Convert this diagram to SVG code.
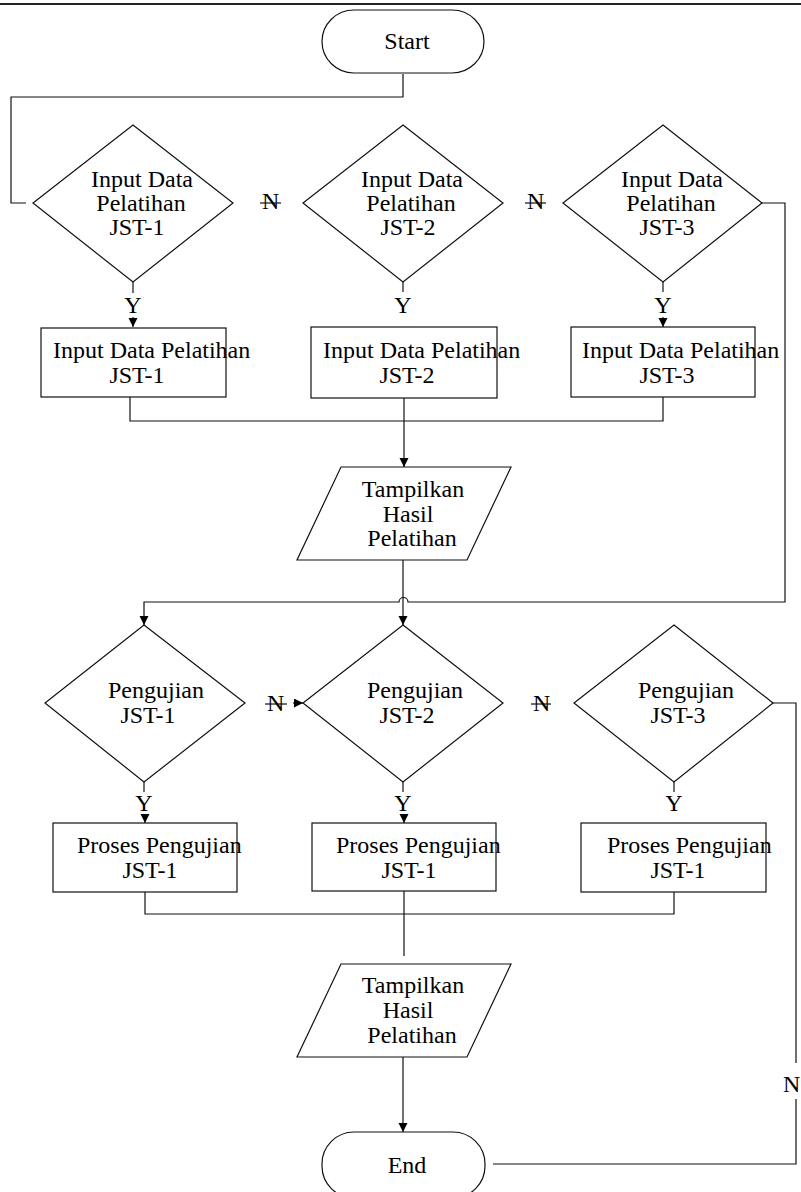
<svg xmlns="http://www.w3.org/2000/svg" width="801" height="1192" viewBox="0 0 801 1192">
<style>
.s{fill:#fff;stroke:#111;stroke-width:1.2}
.c{fill:none;stroke:#111;stroke-width:1.2}
.t{font-family:"Liberation Serif","Times New Roman",serif;font-size:24px;fill:#000}
.m{text-anchor:middle}
</style>
<defs>
<marker id="ah" markerUnits="userSpaceOnUse" markerWidth="10" markerHeight="10" refX="9" refY="4.5" orient="auto">
<path d="M0,0 L9,4.5 L0,9 Z" fill="#000"/>
</marker>
</defs>
<rect width="801" height="1192" fill="#fff"/>
<line x1="0" y1="4" x2="801" y2="4" stroke="#222" stroke-width="2"/>

<g id="connectors">
<path class="c" d="M403,74 V97 H11 V203 H26"/>
<line class="c" x1="260" y1="203" x2="281" y2="203"/>
<line class="c" x1="525" y1="203" x2="546" y2="203"/>
<path class="c" d="M133,282 V293"/>
<path class="c" d="M133,317 V327" marker-end="url(#ah)"/>
<path class="c" d="M403,282 V292"/>
<path class="c" d="M663,282 V292"/>
<path class="c" d="M663,317 V327" marker-end="url(#ah)"/>
<path class="c" d="M130,397 V421 H663 V397"/>
<path class="c" d="M404,398 V467" stroke-width="2" marker-end="url(#ah)"/>
<path class="c" d="M403,560 V625" marker-end="url(#ah)"/>
<path class="c" d="M762,203 H785 V602 H408 A4.5,4.5 0 0 0 399,602 H144 V625" marker-end="url(#ah)"/>
<line class="c" x1="265" y1="704" x2="287" y2="704"/>
<path class="c" d="M293,703 H303" marker-end="url(#ah)"/>
<line class="c" x1="531" y1="704" x2="551" y2="704"/>
<path class="c" d="M144,782 V792"/>
<path class="c" d="M145,814 V823" marker-end="url(#ah)"/>
<path class="c" d="M403,782 V792"/>
<path class="c" d="M404,814 V823" marker-end="url(#ah)"/>
<path class="c" d="M674,782 V792"/>
<path class="c" d="M145,892 V914 H674 V892"/>
<path class="c" d="M404,891 V956"/>
<path class="c" d="M403,1057 V1132" marker-end="url(#ah)"/>
<path class="c" d="M773,703 H796 V1063"/>
<path class="c" d="M796,1099 V1164 H493"/>
<text class="t" x="262" y="209">N</text>
<text class="t" x="527" y="209">N</text>
<text class="t" x="267" y="711">N</text>
<text class="t" x="533" y="711">N</text>
<text class="t" x="783" y="1092">N</text>
<text class="t m" x="133" y="313">Y</text>
<text class="t m" x="403" y="313">Y</text>
<text class="t m" x="663" y="313">Y</text>
<text class="t m" x="144" y="811">Y</text>
<text class="t m" x="403" y="811">Y</text>
<text class="t m" x="674" y="811">Y</text>
</g>

<g id="start">
<rect class="s" x="322" y="10" width="162" height="63" rx="32" ry="32"/>
<text class="t m" x="407" y="49">Start</text>
</g>

<g id="d1">
<polygon class="s" points="133,125 233,203 133,282 33,203"/>
<text class="t m" x="142" y="187">Input Data</text>
<text class="t m" x="141" y="211">Pelatihan</text>
<text class="t m" x="137" y="235">JST-1</text>
</g>
<g id="d2">
<polygon class="s" points="403,125 503,203 403,282 303,203"/>
<text class="t m" x="412" y="187">Input Data</text>
<text class="t m" x="411" y="211">Pelatihan</text>
<text class="t m" x="408" y="235">JST-2</text>
</g>
<g id="d3">
<polygon class="s" points="663,125 762,203 663,282 563,203"/>
<text class="t m" x="672" y="187">Input Data</text>
<text class="t m" x="671" y="211">Pelatihan</text>
<text class="t m" x="667" y="235">JST-3</text>
</g>

<g id="b1">
<rect class="s" x="41" y="328" width="185" height="69"/>
<text class="t" x="53" y="358">Input Data Pelatihan</text>
<text class="t m" x="137" y="383">JST-1</text>
</g>
<g id="b2">
<rect class="s" x="311" y="327" width="186" height="71"/>
<text class="t" x="323" y="358">Input Data Pelatihan</text>
<text class="t m" x="407" y="383">JST-2</text>
</g>
<g id="b3">
<rect class="s" x="571" y="327" width="184" height="70"/>
<text class="t" x="582" y="358">Input Data Pelatihan</text>
<text class="t m" x="667" y="383">JST-3</text>
</g>

<g id="p1">
<polygon class="s" points="341,467 511,467 467,560 297,560"/>
<text class="t m" x="413" y="497">Tampilkan</text>
<text class="t m" x="408" y="522">Hasil</text>
<text class="t m" x="412" y="546">Pelatihan</text>
</g>

<g id="d4">
<polygon class="s" points="144,625 245,703 144,782 45,703"/>
<text class="t m" x="156" y="698">Pengujian</text>
<text class="t m" x="148" y="723">JST-1</text>
</g>
<g id="d5">
<polygon class="s" points="403,625 503,703 403,782 303,703"/>
<text class="t m" x="415" y="698">Pengujian</text>
<text class="t m" x="407" y="723">JST-2</text>
</g>
<g id="d6">
<polygon class="s" points="674,625 773,703 674,782 574,703"/>
<text class="t m" x="686" y="698">Pengujian</text>
<text class="t m" x="678" y="723">JST-3</text>
</g>

<g id="b4">
<rect class="s" x="53" y="823" width="184" height="69"/>
<text class="t" x="77" y="853">Proses Pengujian</text>
<text class="t m" x="150" y="878">JST-1</text>
</g>
<g id="b5">
<rect class="s" x="312" y="823" width="184" height="68"/>
<text class="t" x="336" y="853">Proses Pengujian</text>
<text class="t m" x="409" y="878">JST-1</text>
</g>
<g id="b6">
<rect class="s" x="581" y="823" width="185" height="69"/>
<text class="t" x="607" y="853">Proses Pengujian</text>
<text class="t m" x="678" y="878">JST-1</text>
</g>

<g id="p2">
<polygon class="s" points="341,964 511,964 467,1057 297,1057"/>
<text class="t m" x="413" y="993">Tampilkan</text>
<text class="t m" x="408" y="1018">Hasil</text>
<text class="t m" x="412" y="1043">Pelatihan</text>
</g>

<g id="end">
<rect class="s" x="322" y="1132" width="163" height="66" rx="32" ry="32"/>
<text class="t m" x="407" y="1173">End</text>
</g>
</svg>
